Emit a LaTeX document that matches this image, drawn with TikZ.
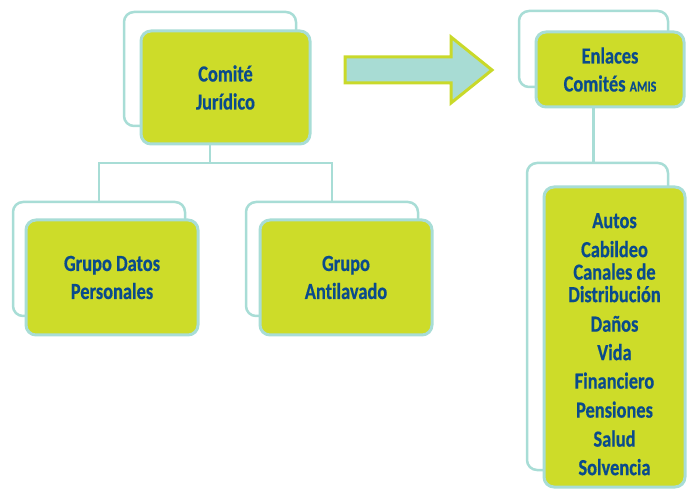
\documentclass[tikz,border=0pt]{standalone}
\usepackage{fontspec}
\newfontfamily\boxfont{Carlito}[FakeStretch=0.8, Ligatures=NoCommon, BoldFeatures={FakeBold=0.5}]
\definecolor{leaf}{RGB}{205,220,41}
\definecolor{teal}{RGB}{168,221,214}
\definecolor{ink}{RGB}{10,75,140}
\definecolor{arrowfill}{RGB}{168,220,212}
\definecolor{arrowline}{RGB}{201,217,42}
\begin{document}
\begin{tikzpicture}[x=1pt,y=-1pt,
  backbox/.style={draw=teal, line width=2.5pt, fill=white, rounded corners=10pt, inner sep=0pt},
  frontbox/.style={draw=teal, line width=3pt, fill=leaf, rounded corners=10pt, inner sep=0pt,
    text=ink, align=center, font=\boxfont\bfseries\fontsize{23}{28}\selectfont},
  conn/.style={draw=teal, line width=2.5pt},
  listtxt/.style={text=ink, align=center, inner sep=0pt, font=\boxfont\bfseries\fontsize{23}{22.5}\selectfont}]
\useasboundingbox (0,0) rectangle (689,489);
% Comite Juridico
\node[backbox, minimum width=172pt, minimum height=114pt] (cjb) at (210,69) {};
\node[frontbox, minimum width=169pt, minimum height=113pt] (cjf) at (225.5,87.5) {Comité\\Jurídico};
% children
\node[backbox, minimum width=172pt, minimum height=114pt] (gdb) at (99,259) {};
\node[frontbox, minimum width=172pt, minimum height=115pt] (gdf) at (112,277.5) {Grupo Datos\\Personales};
\node[backbox, minimum width=172pt, minimum height=114pt] (gab) at (332,259) {};
\node[frontbox, minimum width=172pt, minimum height=115pt] (gaf) at (346,277.5) {Grupo\\Antilavado};
% connectors
\coordinate (bus) at (0,163);
\draw[conn] (cjb.south |- cjf.south) -- (cjb.south |- bus);
\draw[conn] (gdb.north) -- (gdb.north |- bus) -- (gab.north |- bus) -- (gab.north);
% arrow
\draw[draw=arrowline, fill=arrowfill, line width=3pt, line join=miter]
  (345,57) -- (451,57) -- (451,37) -- (492,70) -- (451,103) -- (451,83) -- (345,83) -- cycle;
% Enlaces
\node[backbox, minimum width=149pt, minimum height=76pt] (enb) at (593.5,49) {};
\node[frontbox, minimum width=148pt, minimum height=75pt] (enf) at (610,69.5) {Enlaces\\Comités {\fontsize{15}{15}\selectfont AMIS}};
% list
\draw[conn] (enb.south |- enf.south) -- (enb.south |- 0,163);
\node[backbox, minimum width=141pt, minimum height=307pt] (lsb) at (597.5,316.5) {};
\node[frontbox, minimum width=141pt, minimum height=300pt] (lsf) at (614.5,337) {};
\node[listtxt, anchor=north] (lst) at (614.5,213) {Autos\\[6.5pt]Cabildeo\\Canales de\\Distribución\\[7pt]Daños\\[6pt]Vida\\[6pt]Financiero\\[6.5pt]Pensiones\\[6.5pt]Salud\\[6pt]Solvencia};
\end{tikzpicture}
\end{document}
